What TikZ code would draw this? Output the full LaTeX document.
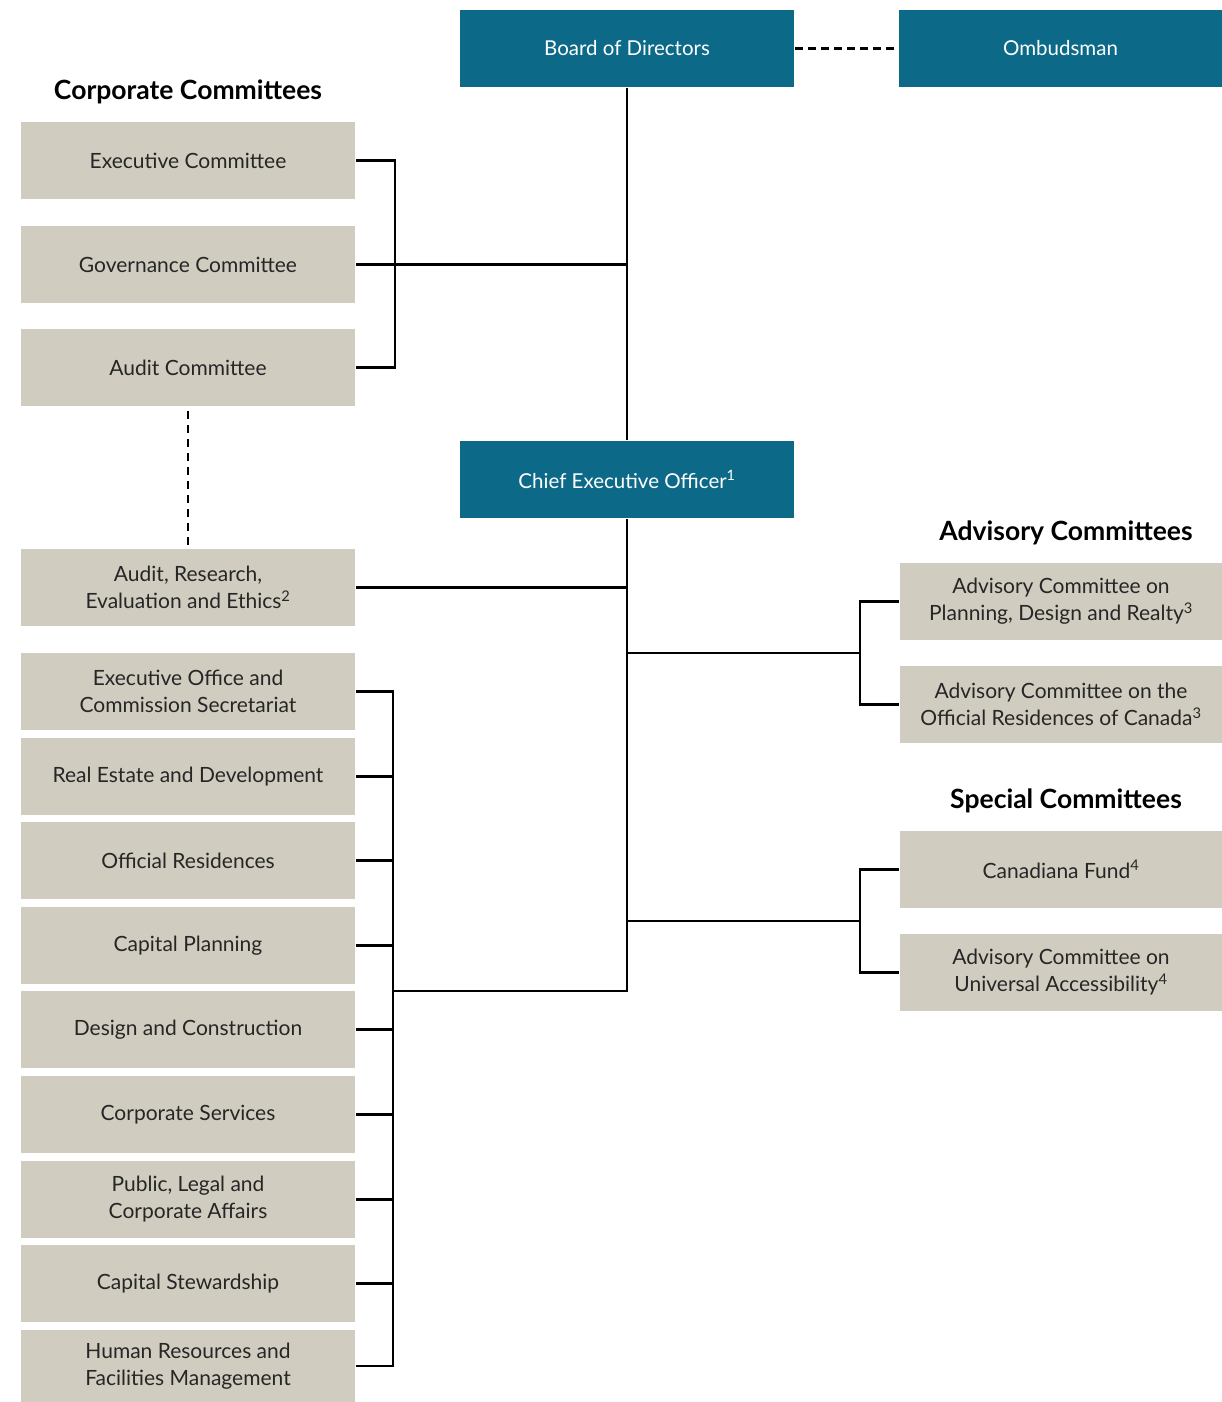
\documentclass[tikz,border=0pt]{standalone}
\usepackage{fontspec}
\setmainfont{Lato}
\definecolor{tealblue}{RGB}{12,106,136}
\definecolor{stone}{RGB}{208,204,191}

\tikzset{>=latex}

\begin{document}
\begin{tikzpicture}[x=1pt, y=-1pt, line width=2.6pt]

	\tikzstyle{box_teal} = [rectangle, fill=tealblue, text=white, minimum width=334pt, minimum height=77pt, inner sep=0pt, align=center, font=\fontsize{20.5}{27}\selectfont]
	\tikzstyle{box_stone} = [rectangle, fill=stone, text=black!85, minimum width=334pt, minimum height=77pt, inner sep=0pt, align=center, font=\fontsize{21}{27}\selectfont]
	\tikzstyle{box_side} = [box_stone, minimum width=322pt]
	\tikzstyle{heading} = [font=\bfseries\fontsize{26.5}{30}\selectfont]

	\useasboundingbox (0,0) rectangle (1222,1402);

%------------------------------------------------------------
	\node[box_teal] (board) at (627,48.5) {Board of Directors};
	\node[box_teal, minimum width=323pt] (ombud) at (1060.5,48.5) {Ombudsman};
	\node[box_teal] (ceo) at (627,479.5) {Chief Executive Officer\textsuperscript{1}};

%------------------------------------------------------------

	\node[heading] (corp) at (188,92) {Corporate Committees};
	\node[box_stone] (exec) at (188,160.5) {Executive Committee};
	\node[box_stone] (gov) at (188,264.5) {Governance Committee};
	\node[box_stone] (audit) at (188,367.5) {Audit Committee};
	\node[box_stone] (are) at (188,587.5) {Audit, Research,\\Evaluation and Ethics\textsuperscript{2}};

%------------------------------------------------------------

	\node[box_stone] (eo) at (188,691.5) {Executive Office and\\Commission Secretariat};
	\node[box_stone] (re) at (188,776.5) {Real Estate and Development};
	\node[box_stone] (or) at (188,860.5) {Official Residences};
	\node[box_stone] (cp) at (188,945.5) {Capital Planning};
	\node[box_stone] (dc) at (188,1029.5) {Design and Construction};
	\node[box_stone] (cs) at (188,1114.5) {Corporate Services};
	\node[box_stone] (pl) at (188,1199.5) {Public, Legal and\\Corporate Affairs};
	\node[box_stone] (st) at (188,1283.5) {Capital Stewardship};
	\node[box_stone, minimum height=72pt] (hr) at (188,1366) {Human Resources and\\Facilities Management};

%------------------------------------------------------------

	\node[heading] (adv) at (1066,533) {Advisory Committees};
	\node[box_side] (acp) at (1061,601.5) {Advisory Committee on\\Planning, Design and Realty\textsuperscript{3}};
	\node[box_side] (aor) at (1061,704.5) {Advisory Committee on the\\Official Residences of Canada\textsuperscript{3}};

	\node[heading] (spec) at (1066,801) {Special Committees};
	\node[box_side] (cf) at (1061,869.5) {Canadiana Fund\textsuperscript{4}};
	\node[box_side] (ua) at (1061,972.5) {Advisory Committee on\\Universal Accessibility\textsuperscript{4}};

%------------------------------------------------------------

	\coordinate (cbr) at (395,264.5);
	\coordinate (lbr) at (393,991);
	\coordinate (spine) at (627,991);
	\coordinate (abr) at (860,653);
	\coordinate (sbr) at (860,921);

	\draw[dashed, dash pattern=on 8pt off 5pt] (board.east) -- (ombud.west);
	\draw (board.south) -- (ceo.north);
	\draw (ceo.south) -- (spine) -- (lbr);

	\draw (exec.east) -| (cbr) |- (audit.east);
	\draw (gov.east) -- (gov.east -| board.south);
	\draw[dashed, dash pattern=on 8pt off 6pt, line width=2.2pt] ([yshift=-4pt]audit.south) -- (are.north);
	\draw (are.east) -- (are.east -| board.south);

	\draw (eo.east) -| (lbr) |- (hr.east);
	\foreach \n in {re,or,cp,dc,cs,pl,st}
		\draw (\n.east) -- (\n.east -| lbr);

	\draw (acp.west) -| (abr) |- (aor.west);
	\draw (abr) -- (abr -| board.south);
	\draw (cf.west) -| (sbr) |- (ua.west);
	\draw (sbr) -- (sbr -| board.south);

\end{tikzpicture}
\end{document}
